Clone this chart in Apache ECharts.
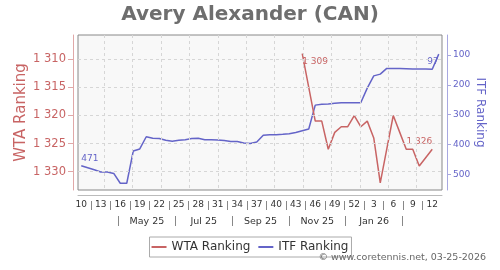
<!DOCTYPE html>
<html>
<head>
<meta charset="utf-8">
<script src="https://cdn.jsdelivr.net/npm/echarts@6/dist/echarts.min.js"></script>
<style>html,body{margin:0;padding:0;background:#fff}#c{width:500px;height:270px}</style>
</head>
<body>
<div id="c"></div>
<script>
// ---- data ----
const weeks = ['10','11','12','13','14','15','16','17','18','19','20','21','22','23','24','25','26','27','28','29','30','31','32','33','34','35','36','37','38','39','40','41','42','43','44','45','46','47','48','49','50','51','52','1','2','3','4','5','6','7','8','9','10','11','12','13'];
const itfRanking = [471,478,485,492,492,497,530,530,422,415,374,379,380,386,389,386,384,380,379,384,384,385,387,390,390,395,397,392,369,367,367,366,364,360,354,348,268,265,264,262,260,260,260,260,211,170,164,145,145,145,146,147,147,147,148,97];
const wtaRanking = [null,null,null,null,null,null,null,null,null,null,null,null,null,null,null,null,null,null,null,null,null,null,null,null,null,null,null,null,null,null,null,null,null,null,1309,null,1321,1321,1326,1323,1322,1322,1320,1322,1321,1324,1332,1326,1320,1323,1326,1326,1329,null,1326,null];
const wtaTicks = [1310,1315,1320,1325,1330];
const itfTicks = [100,200,300,400,500];
const monthLabels = ['May 25','Jul 25','Sep 25','Nov 25','Jan 26'];
const titleText = 'Avery Alexander (CAN)';
const copyright = '\u00a9 www.coretennis.net, 03-25-2026';

// ---- styling ----
const RED = '#c86464', BLUE = '#6464c8';
const FONT = 'DejaVu Sans';
const GRIDLINE = { color: '#d6d6d6', type: [3, 3], width: 1 };
const fmtThousands = v => String(v).replace(/\B(?=(\d{3})+(?!\d))/g, ' ');

function withEndLabels(arr, color, firstPos, firstAlign, lastPos, lastAlign, fmt) {
  let first = -1, last = -1;
  arr.forEach((v, i) => { if (v != null) { if (first < 0) first = i; last = i; } });
  return arr.map((v, i) => {
    if (v == null) return null;
    if (i === first || i === last) {
      const isFirst = i === first;
      return { value: v, label: { show: true, position: isFirst ? firstPos : lastPos, align: isFirst ? firstAlign : lastAlign,
        distance: 3, color: color, fontSize: 9, fontFamily: FONT, formatter: () => fmt(v) } };
    }
    return v;
  });
}

// month-unit scale (0 = Jan 1 2025) aligned with the weekly category scale
const M_MIN = 2.074, M_MAX = 14.891;
const monthStarts = [3,4,5,6,7,8,9,10,11,12,13,14];
const monthLabelPos = [4.5,6.5,8.5,10.5,12.5];
const monthSepPos = [3.5,5.5,7.5,9.5,11.5,13.5];
const weekSepPos = [];
for (let i = 1.5; i < weeks.length - 2; i += 3) weekSepPos.push(i);

const chart = echarts.init(document.getElementById('c'), null, {renderer: 'canvas'});
chart.setOption({
  animation: false,
  backgroundColor: '#fff',
  textStyle: { fontFamily: FONT },
  title: [
    { text: titleText, left: 'center', top: 0, textStyle: { fontSize: 20, fontWeight: 'bold', color: '#6e6e6e', fontFamily: FONT } },
    { text: copyright, right: 9, bottom: 2, textStyle: { fontSize: 9.5, fontWeight: 'normal', color: '#666', fontFamily: FONT } }
  ],
  legend: {
    data: ['WTA Ranking', 'ITF Ranking'],
    left: 'center', top: 237,
    icon: 'rect', itemWidth: 15, itemHeight: 2, itemGap: 8,
    padding: [4, 3, 4, 2],
    borderColor: '#aaa', borderWidth: 1,
    textStyle: { fontSize: 12, color: '#333', fontFamily: FONT }
  },
  grid: { left: 78, right: 58, top: 35, bottom: 80, show: true, backgroundColor: '#f8f8f8', borderColor: '#888', borderWidth: 1 },
  xAxis: [
    { type: 'category', data: weeks, position: 'bottom', offset: 5,
      axisLine: { show: true, onZero: false, lineStyle: { color: '#bbb' } },
      axisTick: { show: false },
      axisLabel: { interval: 2, margin: 5, fontSize: 9, color: '#333', fontFamily: FONT },
      splitLine: { show: false } },
    { type: 'value', min: M_MIN, max: M_MAX, position: 'bottom',
      axisLine: { show: false, onZero: false }, axisLabel: { show: false },
      axisTick: { show: false }, splitLine: { show: false } },
    { type: 'value', min: -0.5, max: weeks.length - 0.5, position: 'bottom', offset: 11,
      axisLine: { show: false, onZero: false }, axisLabel: { show: false },
      axisTick: { show: true, customValues: weekSepPos, length: 9, lineStyle: { color: '#888' } },
      splitLine: { show: false } },
    { type: 'value', min: M_MIN, max: M_MAX, position: 'bottom', offset: 26,
      axisLine: { show: false, onZero: false },
      axisTick: { show: true, customValues: monthSepPos, length: 10, lineStyle: { color: '#888' } },
      axisLabel: { show: true, customValues: monthLabelPos, margin: 1, fontSize: 9.5, color: '#333', fontFamily: FONT,
        formatter: v => monthLabels[monthLabelPos.indexOf(v)] || '' },
      splitLine: { show: false } }
  ],
  yAxis: [
    { type: 'value', position: 'left', inverse: true, min: 1305.67, max: 1333.26, offset: 5,
      name: 'WTA Ranking', nameLocation: 'middle', nameRotate: 90, nameGap: 44, nameMoveOverlap: false,
      nameTextStyle: { color: RED, fontSize: 15, fontFamily: FONT },
      axisLine: { show: true, onZero: false, lineStyle: { color: '#e0a8a8' } },
      axisTick: { show: true, length: 5, customValues: wtaTicks, lineStyle: { color: '#e0a8a8' } },
      axisLabel: { customValues: wtaTicks, margin: 7, fontSize: 11.5, color: RED, fontFamily: FONT, formatter: v => fmtThousands(v) },
      splitLine: { show: false } },
    { type: 'value', position: 'right', inverse: true, min: 32.9, max: 552.6, offset: 5,
      name: 'ITF Ranking', nameLocation: 'middle', nameRotate: -90, nameGap: 27, nameMoveOverlap: false,
      nameTextStyle: { color: BLUE, fontSize: 12, fontFamily: FONT },
      axisLine: { show: true, onZero: false, lineStyle: { color: '#a8a8e0' } },
      axisTick: { show: true, length: 4, customValues: itfTicks, lineStyle: { color: '#a8a8e0' } },
      axisLabel: { customValues: itfTicks, margin: 6, fontSize: 9, color: BLUE, fontFamily: FONT },
      splitLine: { show: false } }
  ],
  series: [
    { name: 'grid', type: 'line', xAxisIndex: 1, yAxisIndex: 0, data: [], z: 1, silent: true,
      markLine: { silent: true, symbol: ['none', 'none'], label: { show: false }, lineStyle: GRIDLINE,
        emphasis: { disabled: true },
        data: monthStarts.map(m => ({ xAxis: m })).concat(wtaTicks.map(t => ({ yAxis: t }))) } },
    { name: 'ITF Ranking', type: 'line', xAxisIndex: 0, yAxisIndex: 1, z: 2,
      data: withEndLabels(itfRanking, BLUE, 'top', 'left', 'bottom', 'right', v => String(v)),
      showSymbol: true, showAllSymbol: true, symbol: 'circle', symbolSize: 0, connectNulls: true,
      itemStyle: { color: BLUE }, lineStyle: { color: BLUE, width: 1.5 } },
    { name: 'WTA Ranking', type: 'line', xAxisIndex: 0, yAxisIndex: 0, z: 3,
      data: withEndLabels(wtaRanking, RED, 'bottom', 'left', 'top', 'right', v => fmtThousands(v)),
      showSymbol: true, showAllSymbol: true, symbol: 'circle', symbolSize: 0, connectNulls: true,
      itemStyle: { color: RED }, lineStyle: { color: RED, width: 1.5 } }
  ]
});
</script>
</body>
</html>
